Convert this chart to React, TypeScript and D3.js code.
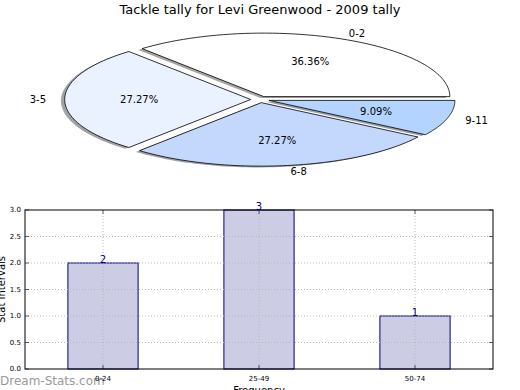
import React from "react";
import * as d3 from "d3";

// pie data
const sliceLabels = ["0-2", "3-5", "6-8", "9-11"];
const sliceValues = [4, 3, 3, 1];
const sliceColors = ["#ffffff", "#eaf1ff", "#c4d8fd", "#b3d4ff"];

// bar data
const barCategories = ["0-24", "25-49", "50-74"];
const barValues = [2, 3, 1];
const yTicks = [0, 0.5, 1, 1.5, 2, 2.5, 3];

const W = 520;
const H = 390;
const font = "DejaVu Sans, sans-serif";

const Pie = () => {
  const cx = 260;
  const cy = 99.5;
  const rx = 186;
  const ry = 63.5;
  const explode = 0.05;

  const xs = d3.scaleLinear().domain([-1, 1]).range([cx - rx, cx + rx]);
  const ys = d3.scaleLinear().domain([-1, 1]).range([cy + ry, cy - ry]);

  const arcs = d3
    .pie<number>()
    .sort(null)
    .startAngle(Math.PI / 2)
    .endAngle(Math.PI / 2 - 2 * Math.PI)(sliceValues);

  const line = d3
    .line<[number, number]>()
    .x((p) => xs(p[0]))
    .y((p) => ys(p[1]));

  const wedges = arcs.map((a, i) => {
    const t0 = Math.PI / 2 - a.startAngle;
    const t1 = Math.PI / 2 - a.endAngle;
    const mid = (t0 + t1) / 2;
    const dx = explode * Math.cos(mid);
    const dy = explode * Math.sin(mid);
    const n = 60;
    const pts: [number, number][] = [[dx, dy]];
    d3.range(n + 1).forEach((k) => {
      const t = t0 + ((t1 - t0) * k) / n;
      pts.push([dx + Math.cos(t), dy + Math.sin(t)]);
    });
    const shadowPts: [number, number][] = pts.map((p) => [p[0] - 0.02, p[1] - 0.02]);
    const c = d3.rgb(sliceColors[i]);
    const shade = d3.rgb(c.r * 0.3, c.g * 0.3, c.b * 0.3).toString();
    const lx = dx + 1.1 * Math.cos(mid);
    const ly = dy + 1.1 * Math.sin(mid);
    const px = dx + 0.6 * Math.cos(mid);
    const py = dy + 0.6 * Math.sin(mid);
    return (
      <g key={sliceLabels[i]}>
        <path d={line(shadowPts) + "Z"} fill={shade} fillOpacity={0.5} stroke="none" />
        <path d={line(pts) + "Z"} fill={sliceColors[i]} stroke="#000" strokeWidth={0.8} strokeLinejoin="round" />
        <text
          x={xs(lx)}
          y={ys(ly)}
          textAnchor={lx > 0 ? "start" : "end"}
          dominantBaseline="central"
          fontSize={10}
        >
          {sliceLabels[i]}
        </text>
        <text x={xs(px)} y={ys(py)} textAnchor="middle" dominantBaseline="central" fontSize={10}>
          {((sliceValues[i] / d3.sum(sliceValues)) * 100).toFixed(2)}%
        </text>
      </g>
    );
  });

  return (
    <g>
      <text x={260} y={13.5} textAnchor="middle" fontSize={13}>
        Tackle tally for Levi Greenwood - 2009 tally
      </text>
      {wedges}
    </g>
  );
};

const Bars = () => {
  const left = 25;
  const right = 493;
  const top = 210;
  const bottom = 369;

  const xScale = d3
    .scaleBand()
    .domain(barCategories)
    .range([left, right])
    .paddingInner(0.55)
    .paddingOuter(0.275);

  const yScale = d3.scaleLinear().domain([0, 3]).range([bottom, top]);

  const grid = yTicks.map((t) => (
    <g key={t}>
      {t > 0 && t < 3 && (
        <line x1={left} x2={right} y1={yScale(t)} y2={yScale(t)} stroke="#b8b8b8" strokeDasharray="1,2" strokeWidth={1} />
      )}
      <line x1={left} x2={left + 4} y1={yScale(t)} y2={yScale(t)} stroke="#000" strokeWidth={0.6} />
      <line x1={right - 4} x2={right} y1={yScale(t)} y2={yScale(t)} stroke="#000" strokeWidth={0.6} />
      <text x={left - 4} y={yScale(t)} textAnchor="end" dominantBaseline="central" fontSize={7}>
        {t.toFixed(1)}
      </text>
    </g>
  ));

  const rects = barCategories.map((c, i) => (
    <rect
      key={c}
      x={xScale(c)}
      y={yScale(barValues[i])}
      width={xScale.bandwidth()}
      height={bottom - yScale(barValues[i])}
      fill="#ccccE5"
      stroke="#000080"
      strokeWidth={1}
    />
  ));

  const xGrid = barCategories.map((c) => {
    const x = (xScale(c) as number) + xScale.bandwidth() / 2;
    return (
      <g key={c}>
        <line x1={x} x2={x} y1={top} y2={bottom} stroke="#b8b8b8" strokeDasharray="1,2" strokeWidth={1} />
        <line x1={x} x2={x} y1={bottom} y2={bottom - 4} stroke="#000" strokeWidth={0.6} />
        <line x1={x} x2={x} y1={top} y2={top + 4} stroke="#000" strokeWidth={0.6} />
      </g>
    );
  });

  const valueLabels = barCategories.map((c, i) => (
    <text
      key={c}
      x={(xScale(c) as number) + xScale.bandwidth() / 2}
      y={yScale(barValues[i]) - 0.5}
      textAnchor="middle"
      fontSize={10}
      fill="#000080"
    >
      {barValues[i]}
    </text>
  ));

  return (
    <g>
      {rects}
      {grid}
      {xGrid}
      <rect x={left} y={top} width={right - left} height={bottom - top} fill="none" stroke="#000" strokeWidth={1} />
      {valueLabels}
      <text x={0} y={384.5} fontSize={12} fill="#999">
        Dream-Stats.com
      </text>
      {barCategories.map((c) => (
        <text
          key={c}
          x={(xScale(c) as number) + xScale.bandwidth() / 2}
          y={bottom + 12}
          textAnchor="middle"
          fontSize={7}
        >
          {c}
        </text>
      ))}
      <text x={(left + right) / 2} y={394} textAnchor="middle" fontSize={10}>
        Frequency
      </text>
      <text
        transform={`translate(5, ${(top + bottom) / 2}) rotate(-90)`}
        textAnchor="middle"
        fontSize={10}
      >
        Stat Intervals
      </text>
    </g>
  );
};

export default function App() {
  return (
    <svg
      width={W}
      height={H}
      viewBox={`0 0 ${W} ${H}`}
      style={{ position: "absolute", left: 0, top: 0, background: "#fff", fontFamily: font }}
    >
      <rect width={W} height={H} fill="#fff" />
      <Pie />
      <Bars />
    </svg>
  );
}
